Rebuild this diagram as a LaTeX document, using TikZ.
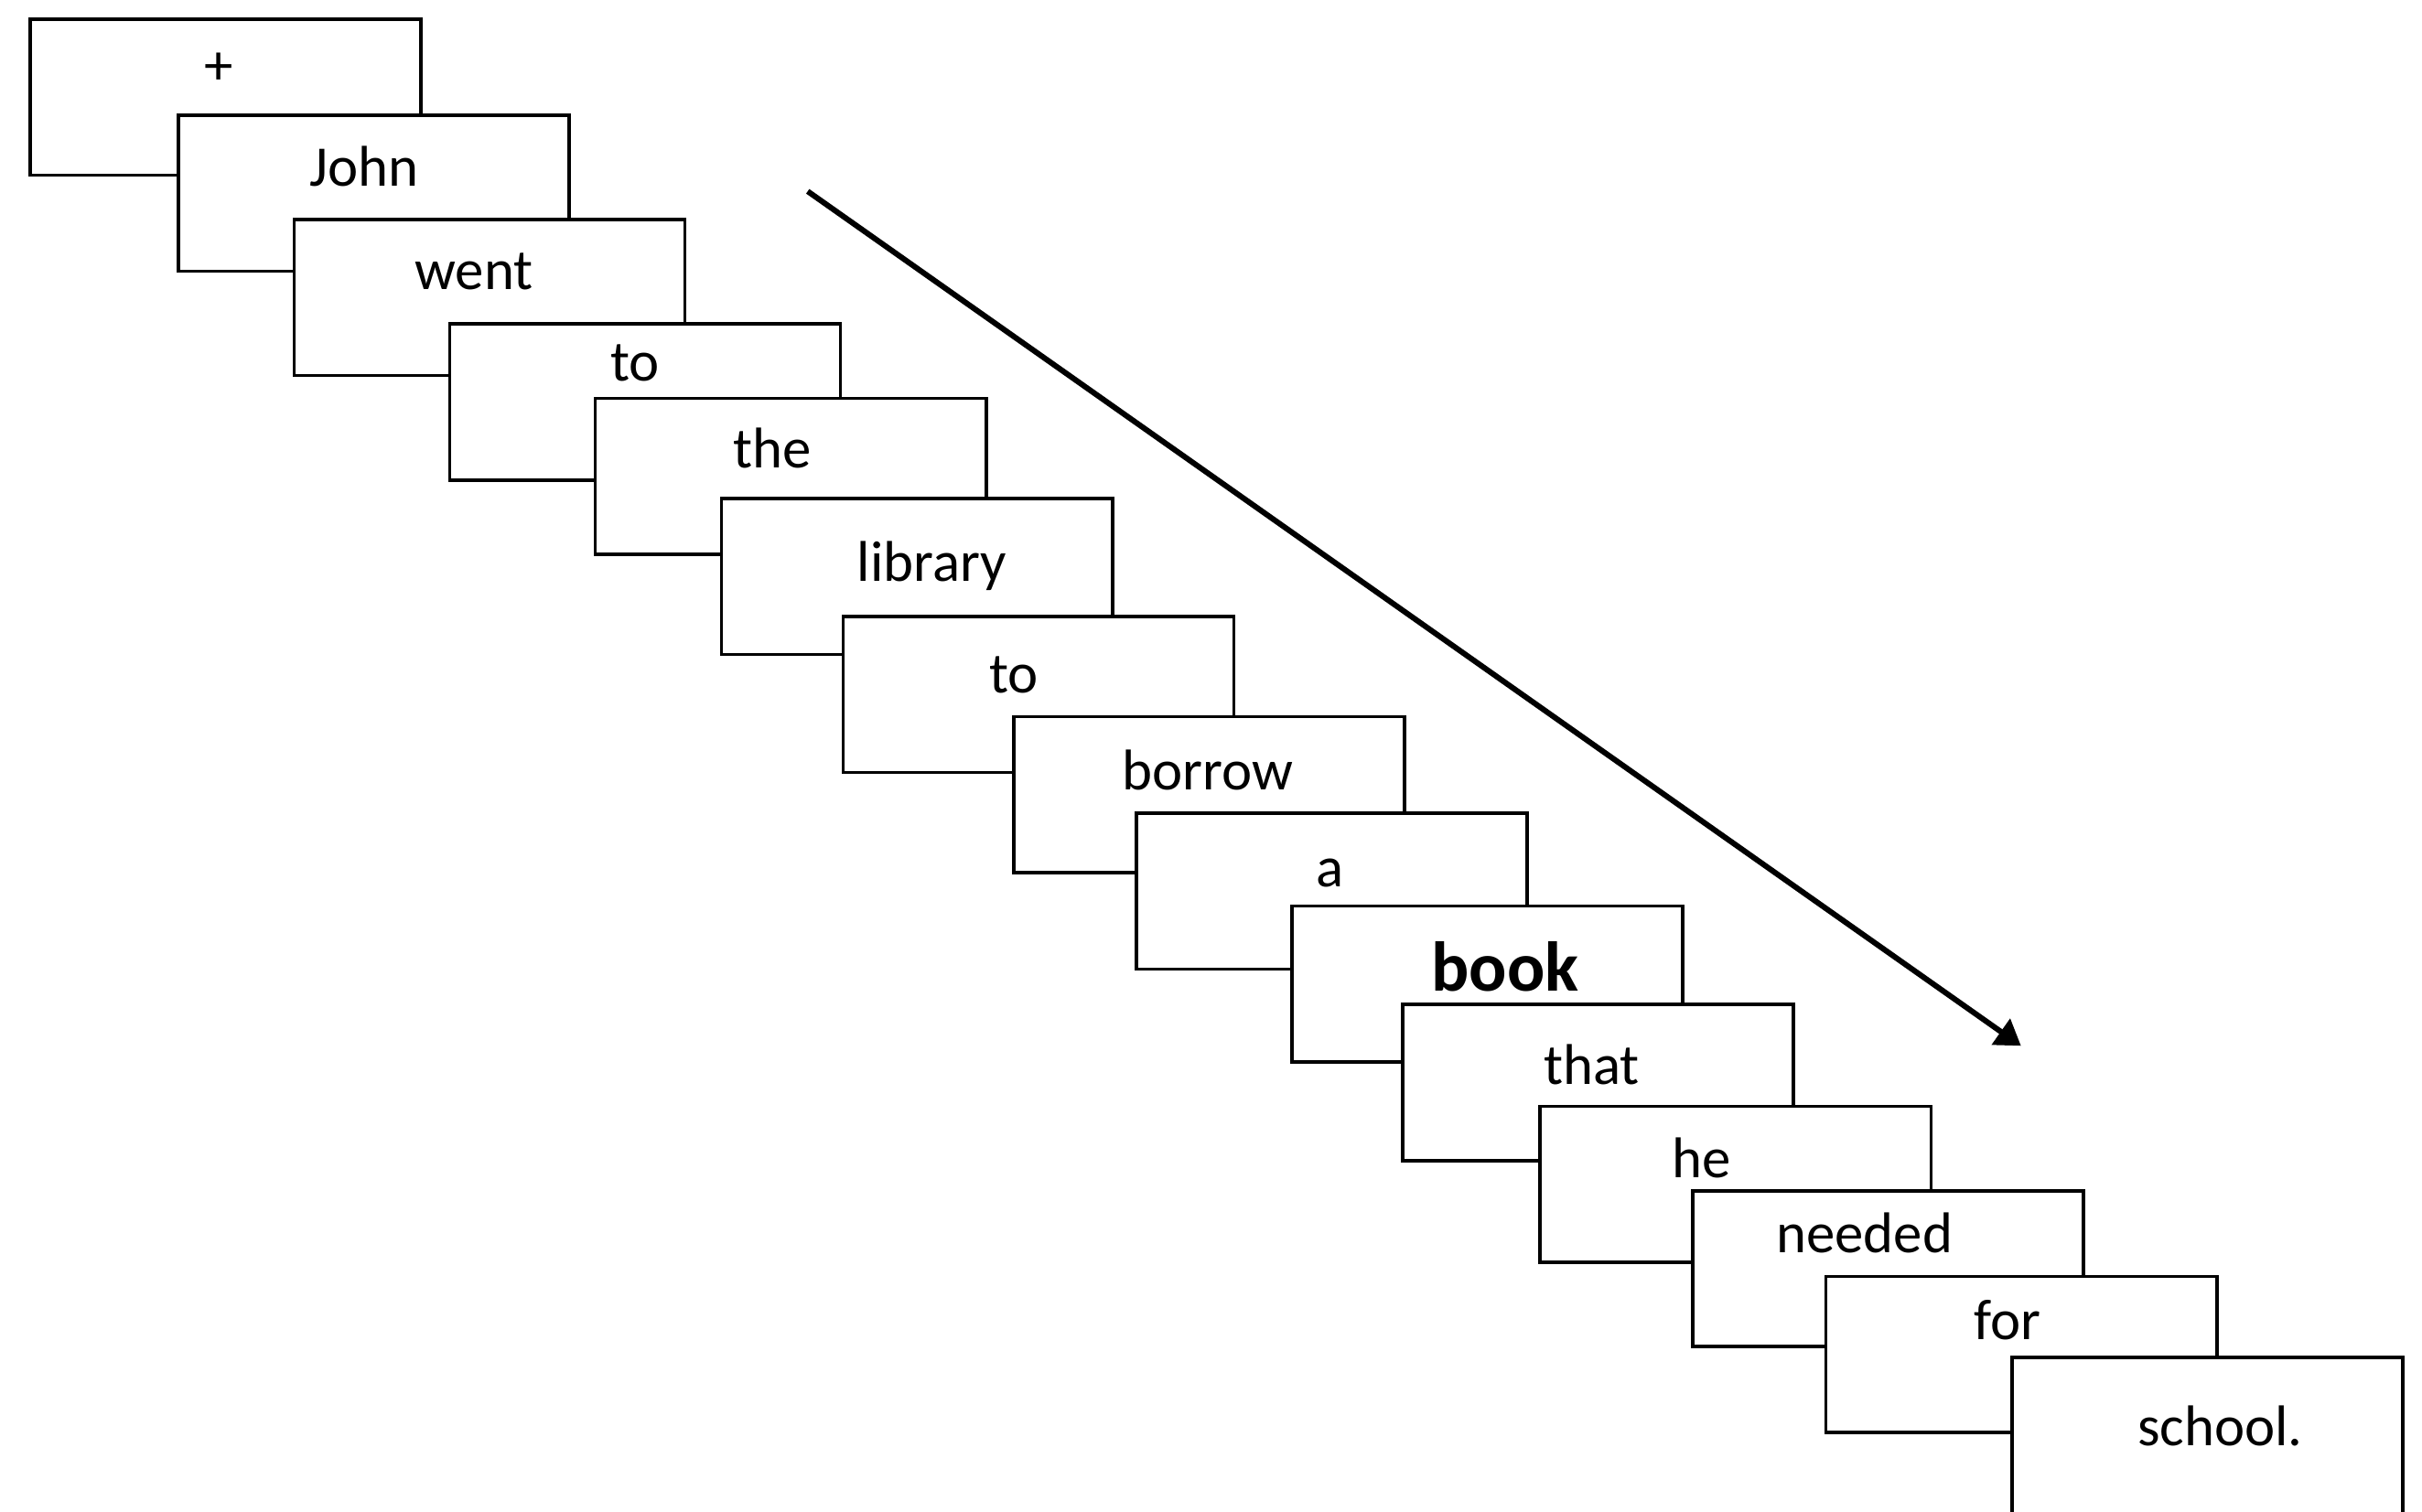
\documentclass[tikz,border=0pt]{standalone}
\usepackage{fontspec}
\setmainfont{Carlito}
\usetikzlibrary{positioning,arrows.meta}

\begin{document}
\begin{tikzpicture}[x=0.5pt, y=-0.5pt,
    frame/.style={rectangle, draw, fill=white, line width=1.1pt, inner sep=0pt, minimum width=126.5pt, minimum height=50.5pt, anchor=north west},
    word/.style={inner sep=0pt, anchor=base, font=\fontsize{18.6pt}{22pt}\selectfont},
    keyword/.style={inner sep=0pt, anchor=base, font=\fontsize{22.8pt}{26pt}\selectfont\bfseries}]

\useasboundingbox (0,0) rectangle (1568,979);

% Fixation frame
\node[frame] (f0) at (18.4,11.4) {};
\node[word, anchor=center] (w0) at (141.5,44.4) {+};

% Word frames, one per word
\node[frame] (f1) at (114.4,73.6) {};
\node[word] (w1) at (235.7,120.8) {John};
\node[frame] (f2) at (189.3,141.1) {};
\node[word] (w2) at (306.9,187.4) {went};
\node[frame] (f3) at (290,208.8) {};
\node[word] (w3) at (411.2,247) {to};
\node[frame] (f4) at (384.3,256.9) {};
\node[word] (w4) at (500,302.9) {the};
\node[frame] (f5) at (466,321.7) {};
\node[word] (w5) at (603.3,376.5) {library};
\node[frame] (f6) at (544.7,398.2) {};
\node[word] (w6) at (656.4,449) {to};
\node[frame] (f7) at (655.2,463) {};
\node[word] (w7) at (781.9,511.5) {borrow};
\node[frame] (f8) at (734.5,525.5) {};
\node[word] (w8) at (860.9,574.3) {a};
\node[frame] (f9) at (835.2,585.6) {};
\node[keyword] (w9) at (974.3,641.7) {book};
\node[frame] (f10) at (907,649.5) {};
\node[word] (w10) at (1030.3,702.5) {that};
\node[frame] (f11) at (996,715.4) {};
\node[word] (w11) at (1101.5,762.7) {he};
\node[frame] (f12) at (1094.7,770) {};
\node[word] (w12) at (1207,811.5) {needed};
\node[frame] (f13) at (1181,825.5) {};
\node[word] (w13) at (1299.7,867.3) {for};
\node[frame] (f14) at (1301.6,878) {};
\node[word] (w14) at (1437.4,936.4) {school.};

% Time arrow
\coordinate (tstart) at (522.9,123.9);
\coordinate (tend) at (1308.4,677.3);
\draw[-{Triangle[length=8pt, width=10pt]}, line width=1.8pt] (tstart) -- (tend);

\end{tikzpicture}
\end{document}
